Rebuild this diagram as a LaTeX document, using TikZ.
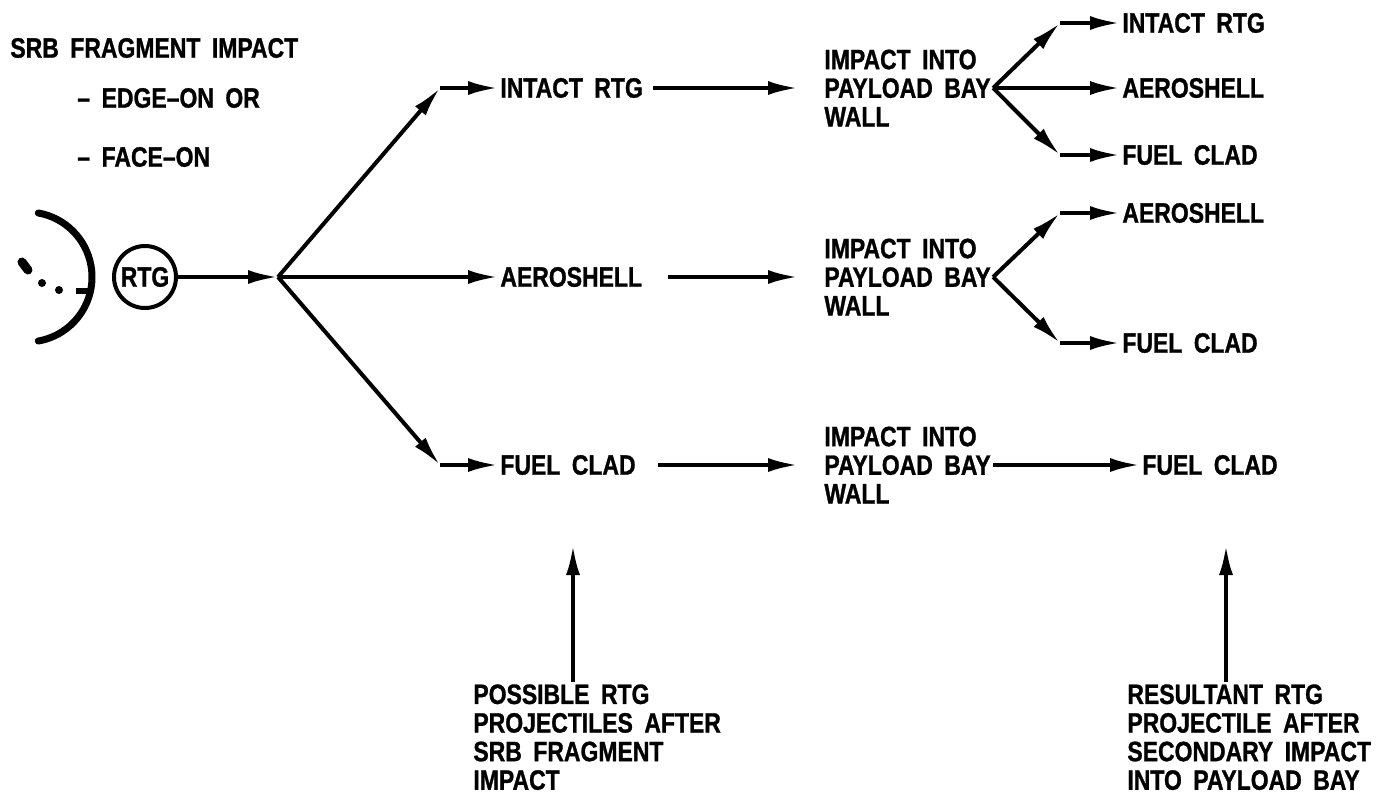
\documentclass[tikz,border=0pt]{standalone}
\usepackage{fontspec}
\usetikzlibrary{arrows.meta,positioning}
\newfontfamily\lettering{Liberation Sans}[FakeStretch=0.82, FakeBold=1, WordSpace=1.8]

\tikzset{
  lbl/.style={font=\lettering\bfseries\fontsize{14}{14.3}\selectfont, inner sep=1pt, anchor=west},
  block/.style={lbl, align=left},
  flow/.style={line width=2pt, -{Latex[length=15pt,width=7pt]}},
}

\begin{document}
\begin{tikzpicture}[x=0.5pt, y=-0.5pt]
\useasboundingbox (0,0) rectangle (1394,793);

% fragment and RTG
\node[lbl] (srb) at (8,48) {SRB FRAGMENT IMPACT};
\node[lbl] (edge) at (75,98) {– EDGE–ON OR};
\node[lbl] (face) at (75,157) {– FACE–ON};
\draw[line width=3.5pt, line cap=round] (27,277) ++(80:65) arc (80:-80:65);
\draw[line width=3pt] (76,291) -- (90,291);
\draw[line width=4.5pt, line cap=round] (22,262) -- (28,270);
\fill (42,283) circle (4);
\fill (59,290) circle (4);
\node[lbl, circle, draw, line width=2pt, minimum size=31pt, inner sep=0pt, anchor=center] (rtg) at (145,277) {RTG};

% possible projectiles
\coordinate (split) at (278,277);
\coordinate (b1) at (440,88);
\coordinate (b3) at (440,465);
\node[lbl] (intact) at (498,88) {INTACT RTG};
\node[lbl] (aero) at (498,277) {AEROSHELL};
\node[lbl] (fuel) at (498,465) {FUEL CLAD};

\draw[flow] (rtg) -- (split);
\draw[flow] (split) -- (b1);
\draw[flow] (b1) -- (intact);
\draw[flow] (split) -- (aero);
\draw[flow] (split) -- (b3);
\draw[flow] (b3) -- (fuel);

% secondary impact
\node[block] (wall1) at (822,88) {IMPACT INTO\\PAYLOAD BAY\\WALL};
\node[block] (wall2) at (822,277) {IMPACT INTO\\PAYLOAD BAY\\WALL};
\node[block] (wall3) at (822,465) {IMPACT INTO\\PAYLOAD BAY\\WALL};

\draw[flow, shorten <=4pt, shorten >=12pt] (intact) -- (wall1);
\draw[flow, shorten <=12pt, shorten >=12pt] (aero) -- (wall2);
\draw[flow, shorten <=10pt, shorten >=12pt] (fuel) -- (wall3);

% resulting projectiles
\coordinate (g1a) at (1060,23);
\coordinate (g1c) at (1060,155);
\coordinate (g2a) at (1060,213);
\coordinate (g2c) at (1060,343);
\node[lbl] (r1a) at (1120,23) {INTACT RTG};
\node[lbl] (r1b) at (1120,88) {AEROSHELL};
\node[lbl] (r1c) at (1120,155) {FUEL CLAD};
\node[lbl] (r2a) at (1120,213) {AEROSHELL};
\node[lbl] (r2c) at (1120,343) {FUEL CLAD};
\node[lbl] (r3) at (1140,465) {FUEL CLAD};

\draw[flow] (wall1.east) -- (g1a);
\draw[flow] (g1a) -- (r1a);
\draw[flow] (wall1.east) -- (r1b);
\draw[flow] (wall1.east) -- (g1c);
\draw[flow] (g1c) -- (r1c);
\draw[flow] (wall2.east) -- (g2a);
\draw[flow] (g2a) -- (r2a);
\draw[flow] (wall2.east) -- (g2c);
\draw[flow] (g2c) -- (r2c);
\draw[flow] (wall3.east) -- (r3);

% notes
\node[block, anchor=north west] (note1) at (471,682) {POSSIBLE RTG\\PROJECTILES AFTER\\SRB FRAGMENT\\IMPACT};
\node[block, anchor=north west] (note2) at (1125,682) {RESULTANT RTG\\PROJECTILE AFTER\\SECONDARY IMPACT\\INTO PAYLOAD BAY};
\coordinate (up1) at (573,545);
\coordinate (up2) at (1226,545);
\draw[flow] (note1.north -| up1) -- (up1);
\draw[flow] (note2.north -| up2) -- (up2);
\end{tikzpicture}
\end{document}
